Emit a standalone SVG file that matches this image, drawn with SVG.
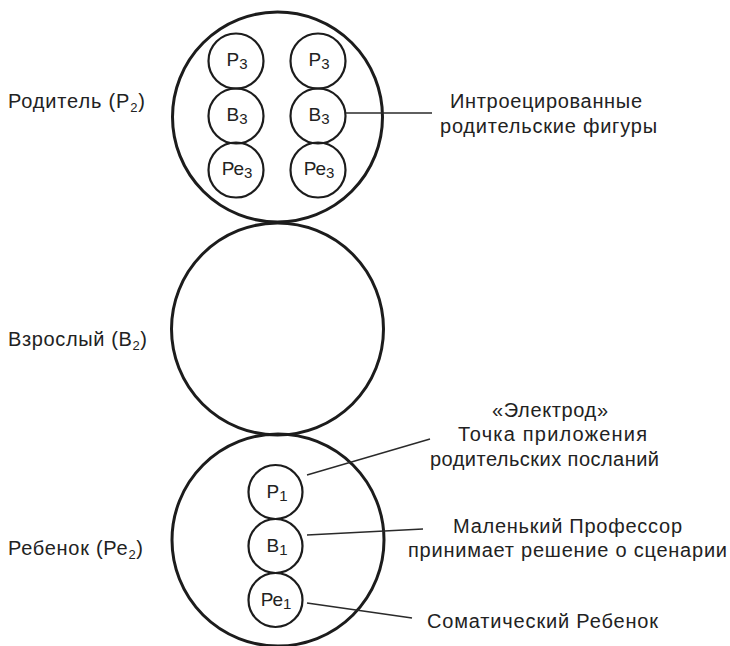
<svg xmlns="http://www.w3.org/2000/svg" width="730" height="646" viewBox="0 0 730 646">
  <style>
    .big { fill: none; stroke: #1c1c1c; stroke-width: 3; }
    .small { fill: none; stroke: #1c1c1c; stroke-width: 2.2; }
    .lead { fill: none; stroke: #2a2a2a; stroke-width: 1.4; }
    text { font-family: "Liberation Sans", Arial, sans-serif; fill: #222; }
    .lbl { font-size: 20px; }
    .in { font-size: 19px; text-anchor: middle; }
    .sub { font-size: 13px; }
    .in .sub { font-size: 15px; }
  </style>

  <rect width="730" height="646" fill="#ffffff"/>

  <!-- ego states -->
  <g id="parent">
    <circle class="big" cx="277.5" cy="117" r="105"/>
    <text class="lbl" x="8" y="108" textLength="137">Родитель (Р<tspan class="sub" dy="4">2</tspan><tspan dy="-4">)</tspan></text>
  </g>
  <g id="adult">
    <circle class="big" cx="277.5" cy="329" r="106"/>
    <text class="lbl" x="8" y="346" textLength="139">Взрослый (В<tspan class="sub" dy="4">2</tspan><tspan dy="-4">)</tspan></text>
  </g>
  <g id="child">
    <circle class="big" cx="278" cy="540" r="106"/>
    <text class="lbl" x="8" y="555" textLength="135">Ребенок (Ре<tspan class="sub" dy="4">2</tspan><tspan dy="-4">)</tspan></text>
  </g>

  <!-- introjected parental figures -->
  <g id="p3-left">
    <circle class="small" cx="236" cy="61" r="27.5"/>
    <text class="in" x="237" y="66">Р<tspan class="sub" dy="3">3</tspan></text>
  </g>
  <g id="b3-left">
    <circle class="small" cx="236" cy="116" r="27.5"/>
    <text class="in" x="237" y="121">В<tspan class="sub" dy="3">3</tspan></text>
  </g>
  <g id="pe3-left">
    <circle class="small" cx="236" cy="170" r="27.5"/>
    <text class="in" x="237" y="175">Ре<tspan class="sub" dy="3">3</tspan></text>
  </g>
  <g id="p3-right">
    <circle class="small" cx="318" cy="61" r="27.5"/>
    <text class="in" x="319" y="66">Р<tspan class="sub" dy="3">3</tspan></text>
  </g>
  <g id="b3-right">
    <circle class="small" cx="318" cy="116" r="27.5"/>
    <text class="in" x="319" y="121">В<tspan class="sub" dy="3">3</tspan></text>
  </g>
  <g id="pe3-right">
    <circle class="small" cx="318" cy="170" r="27.5"/>
    <text class="in" x="319" y="175">Ре<tspan class="sub" dy="3">3</tspan></text>
  </g>

  <!-- second-order structure of the Child -->
  <g id="p1">
    <circle class="small" cx="275.5" cy="492" r="27"/>
    <text class="in" x="277" y="498">Р<tspan class="sub" dy="3">1</tspan></text>
  </g>
  <g id="b1">
    <circle class="small" cx="275.5" cy="546" r="27"/>
    <text class="in" x="277" y="552">В<tspan class="sub" dy="3">1</tspan></text>
  </g>
  <g id="pe1">
    <circle class="small" cx="275.5" cy="600" r="27"/>
    <text class="in" x="276" y="606">Ре<tspan class="sub" dy="3">1</tspan></text>
  </g>

  <!-- annotations -->
  <g id="note-introjects">
    <text class="lbl" x="450" y="108" textLength="192">Интроецированные</text>
    <text class="lbl" x="440" y="133" textLength="217">родительские фигуры</text>
  </g>
  <g id="note-electrode">
    <text class="lbl" x="492" y="417" textLength="116">«Электрод»</text>
    <text class="lbl" x="458" y="441" textLength="189">Точка приложения</text>
    <text class="lbl" x="430" y="466" textLength="229">родительских посланий</text>
  </g>
  <g id="note-professor">
    <text class="lbl" x="453" y="533" textLength="229">Маленький Профессор</text>
    <text class="lbl" x="408" y="557" textLength="319">принимает решение о сценарии</text>
  </g>
  <g id="note-somatic">
    <text class="lbl" x="427" y="628" textLength="231">Соматический Ребенок</text>
  </g>

  <!-- leader lines -->
  <g id="connectors">
    <line class="lead" x1="346" y1="113" x2="432" y2="113"/>
    <line class="lead" x1="307" y1="475" x2="430" y2="439"/>
    <line class="lead" x1="307" y1="535" x2="423" y2="529"/>
    <line class="lead" x1="307" y1="603" x2="412" y2="618"/>
  </g>
</svg>
